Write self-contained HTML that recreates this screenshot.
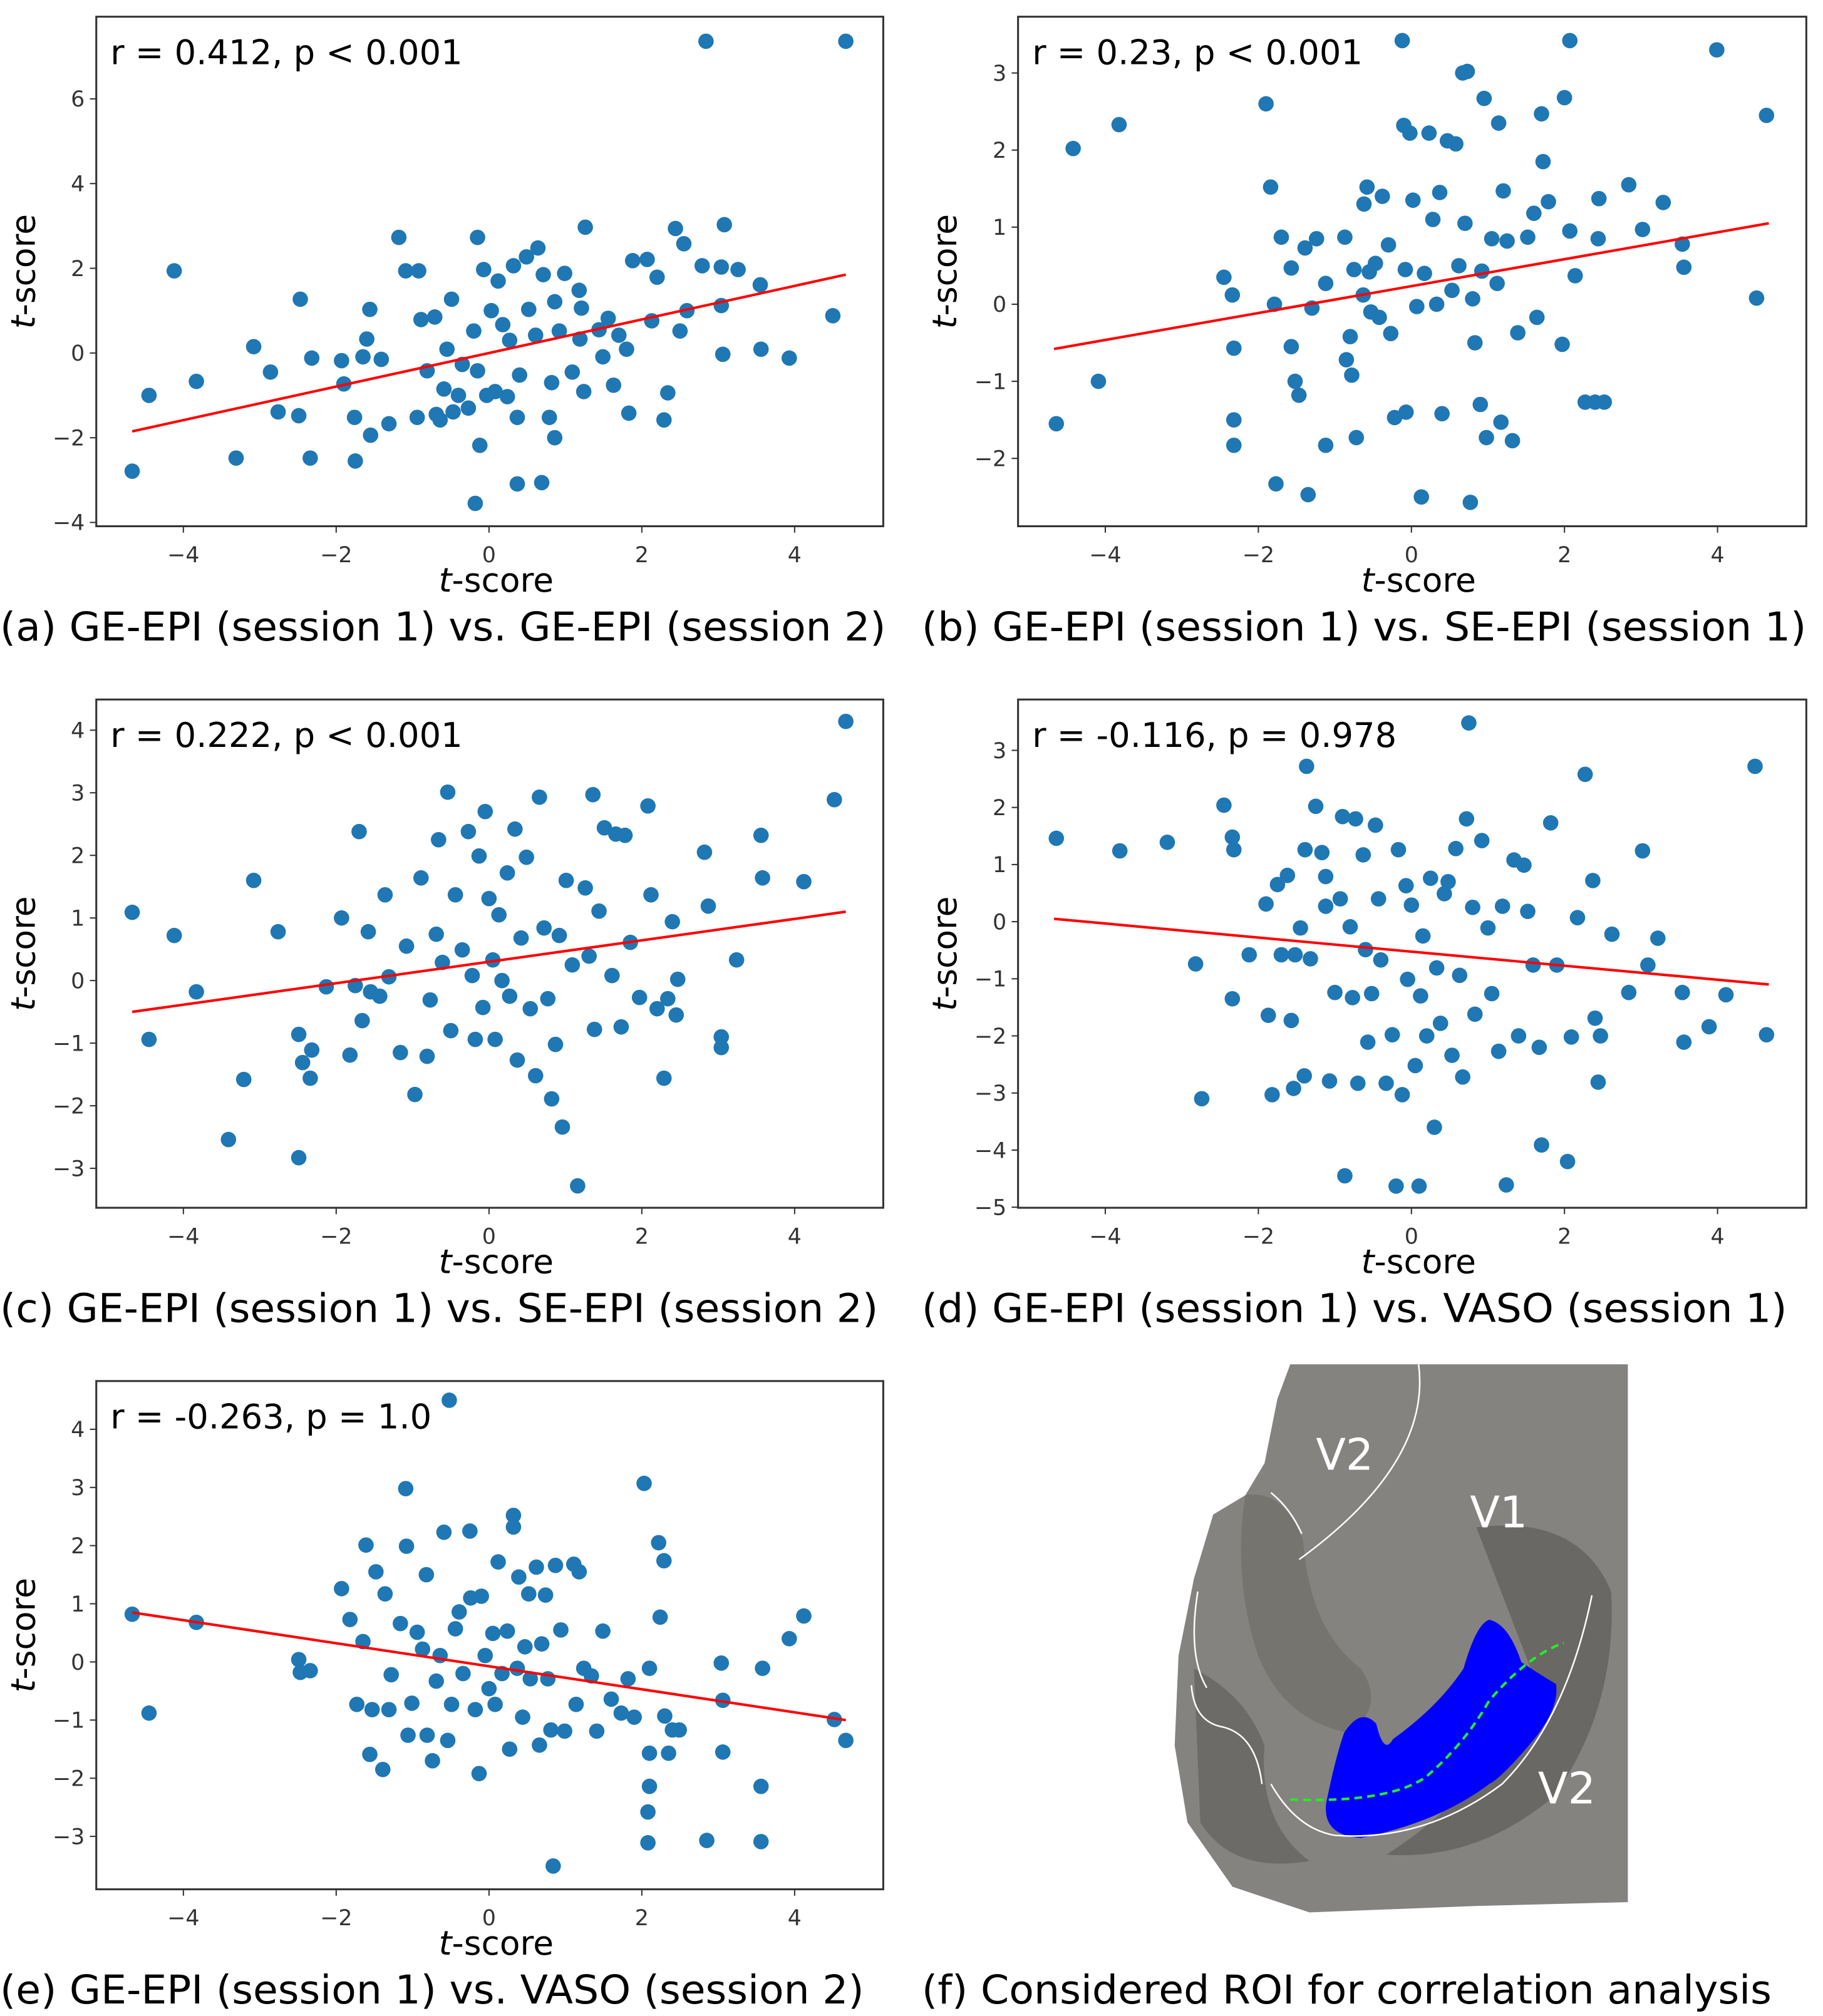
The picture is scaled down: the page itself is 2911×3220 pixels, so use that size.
<!DOCTYPE html>
<html><head><meta charset="utf-8"><style>
html,body{margin:0;padding:0;background:#fff;}
svg{display:block;}
text{font-family:"DejaVu Sans","Liberation Sans",sans-serif;}
</style></head><body>
<svg id="fig" width="2911" height="3220" viewBox="0 0 1420 1570.7" xmlns="http://www.w3.org/2000/svg">
<g id="brain">
<path d="M1005 1063 L1268 1063 L1268 1482 L1150 1485 L1020 1490 L960 1470 L925 1420 L915 1360 L918 1290 L930 1230 L945 1180 L970 1165 L985 1140 L995 1090 Z" fill="#858380"/>
<path d="M970 1165 Q1000 1160 1015 1200 Q1020 1270 1060 1300 Q1080 1330 1050 1350 Q1000 1340 980 1290 Q960 1230 970 1165 Z" fill="#76746f"/>
<path d="M1150 1190 Q1230 1180 1255 1240 Q1260 1330 1210 1400 Q1150 1450 1080 1445 Q1150 1400 1200 1320 Z" fill="#6a6864"/>
<path d="M930 1300 Q970 1320 985 1360 Q980 1420 1020 1450 Q960 1460 935 1420 Z" fill="#6d6b67"/>
<path d="M1160 1262 Q1175 1265 1185 1295 Q1200 1305 1212 1312 Q1215 1330 1195 1355 Q1170 1385 1160 1390 Q1120 1420 1060 1432 Q1030 1430 1033 1405 Q1040 1370 1047 1350 Q1060 1330 1072 1343 Q1078 1368 1085 1355 Q1120 1330 1140 1300 Q1150 1265 1160 1262 Z" fill="#0000ff"/>
<path d="M1105 1063 Q1115 1140 1012 1215" fill="none" stroke="#fff" stroke-width="1.2"/>
<path d="M933 1240 Q925 1290 940 1315" fill="none" stroke="#fff" stroke-width="1.2"/>
<path d="M928 1313 Q930 1340 950 1345 Q978 1350 983 1390" fill="none" stroke="#fff" stroke-width="1.2"/>
<path d="M1240 1243 Q1220 1340 1170 1390 Q1110 1435 1040 1430 Q1010 1425 990 1390" fill="none" stroke="#fff" stroke-width="1.2"/>
<path d="M990 1163 Q1005 1175 1014 1195" fill="none" stroke="#fff" stroke-width="1.2"/>
<path d="M1005 1402 Q1080 1405 1110 1385 Q1140 1360 1160 1325 Q1190 1290 1218 1280" fill="none" stroke="#22ee22" stroke-width="2" stroke-dasharray="6,4"/>
<text x="1025" y="1145" fill="#fff" font-size="34">V2</text>
<text x="1145" y="1190" fill="#fff" font-size="34">V1</text>
<text x="1198" y="1405" fill="#fff" font-size="34">V2</text>
</g>
<text x="718" y="1561" font-size="31" textLength="662" lengthAdjust="spacingAndGlyphs">(f) Considered ROI for correlation analysis</text>
</svg>
<script>
const xTicks=[-4,-2,0,2,4];
const aX=[-4.67,-4.45,-4.12,-3.83,-3.31,-3.08,-2.86,-2.76,-2.49,-2.47,-2.34,-2.32,-1.93,-1.9,-1.75,-1.76,-1.65,-1.6,-1.56,-1.55,-1.41,-1.31,-1.18,-1.09,-0.92,-0.94,-0.89,-0.81,-0.71,-0.64,-0.69,-0.59,-0.55,-0.49,-0.47,-0.4,-0.35,-0.27,-0.2,-0.15,-0.15,-0.12,-0.18,-0.07,-0.03,0.03,0.08,0.12,0.18,0.24,0.27,0.32,0.37,0.37,0.4,0.49,0.52,0.61,0.64,0.69,0.71,0.79,0.82,0.86,0.86,0.92,0.99,1.09,1.18,1.19,1.21,1.24,1.26,1.44,1.49,1.56,1.63,1.7,1.8,1.83,1.88,2.07,2.13,2.2,2.29,2.34,2.44,2.5,2.55,2.79,2.84,3.04,3.06,3.08,3.26,3.55,3.56,3.93,4.5,4.67,3.04,2.59];
const aY=[-2.79,-1.0,1.94,-0.67,-2.48,0.15,-0.45,-1.39,-1.48,1.27,-2.48,-0.12,-0.18,-0.73,-2.55,-1.52,-0.09,0.33,1.03,-1.94,-0.15,-1.67,2.73,1.94,1.94,-1.52,0.79,-0.42,0.85,-1.58,-1.45,-0.85,0.09,1.27,-1.39,-1.0,-0.27,-1.3,0.52,2.73,-0.42,-2.18,-3.55,1.97,-1.0,1.0,-0.91,1.7,0.67,-1.03,0.3,2.06,-1.52,-3.09,-0.52,2.27,1.03,0.42,2.48,-3.06,1.85,-1.52,-0.7,-2.0,1.21,0.52,1.88,-0.45,1.48,0.33,1.06,-0.91,2.97,0.55,-0.09,0.82,-0.76,0.42,0.09,-1.42,2.18,2.21,0.76,1.79,-1.58,-0.94,2.94,0.52,2.58,2.06,7.36,1.12,-0.03,3.03,1.97,1.61,0.09,-0.12,0.88,7.36,2.03,1.0];
const aLineX=[-4.67,4.67], aLineY=[-1.85,1.85];
const bX=[-4.64,-4.42,-4.09,-3.82,-2.45,-2.32,-2.32,-2.32,-2.34,-1.9,-1.84,-1.79,-1.77,-1.7,-1.57,-1.57,-1.52,-1.47,-1.39,-1.35,-1.24,-1.3,-1.12,-1.12,-0.87,-0.85,-0.8,-0.78,-0.75,-0.72,-0.63,-0.62,-0.58,-0.55,-0.53,-0.47,-0.42,-0.38,-0.3,-0.27,-0.22,-0.12,-0.08,-0.1,-0.07,-0.02,0.02,0.07,0.13,0.17,0.23,0.28,0.33,0.37,0.4,0.47,0.53,0.58,0.62,0.67,0.7,0.73,0.77,0.8,0.83,0.9,0.92,0.95,0.98,1.05,1.12,1.14,1.17,1.2,1.25,1.32,1.39,1.52,1.6,1.64,1.7,1.72,1.79,1.97,2.0,2.07,2.07,2.14,2.27,2.4,2.44,2.45,2.52,2.84,3.02,3.29,3.54,3.56,3.99,4.51,4.64];
const bY=[-1.55,2.02,-1.0,2.33,0.35,-0.57,-1.5,-1.83,0.12,2.6,1.52,0.0,-2.33,0.87,0.47,-0.55,-1.0,-1.18,0.73,-2.47,0.85,-0.05,0.27,-1.83,0.87,-0.72,-0.42,-0.92,0.45,-1.73,0.12,1.3,1.52,0.42,-0.1,0.53,-0.17,1.4,0.77,-0.38,-1.47,3.42,0.45,2.32,-1.4,2.22,1.35,-0.03,-2.5,0.4,2.22,1.1,0.0,1.45,-1.42,2.12,0.18,2.08,0.5,3.0,1.05,3.02,-2.57,0.07,-0.5,-1.3,0.43,2.67,-1.73,0.85,0.27,2.35,-1.53,1.47,0.82,-1.77,-0.37,0.87,1.18,-0.17,2.47,1.85,1.33,-0.52,2.68,3.42,0.95,0.37,-1.27,-1.27,0.85,1.37,-1.27,1.55,0.97,1.32,0.78,0.48,3.3,0.08,2.45];
const bLineX=[-4.67,4.67], bLineY=[-0.58,1.05];
const cX=[-4.67,-4.45,-4.12,-3.83,-3.41,-3.21,-3.08,-2.76,-2.49,-2.49,-2.44,-2.34,-2.32,-2.13,-1.93,-1.82,-1.75,-1.7,-1.66,-1.58,-1.55,-1.43,-1.36,-1.31,-1.16,-1.08,-0.97,-0.89,-0.81,-0.77,-0.69,-0.66,-0.61,-0.54,-0.5,-0.44,-0.35,-0.27,-0.22,-0.18,-0.13,-0.08,-0.05,0.0,0.05,0.08,0.13,0.17,0.24,0.27,0.34,0.37,0.42,0.49,0.54,0.61,0.66,0.72,0.77,0.82,0.87,0.92,0.96,1.01,1.09,1.16,1.26,1.31,1.36,1.38,1.44,1.51,1.61,1.66,1.73,1.78,1.85,1.97,2.08,2.12,2.2,2.29,2.34,2.4,2.47,2.45,2.82,2.87,3.04,3.04,3.24,3.56,3.58,4.12,4.52,4.67];
const cY=[1.09,-0.94,0.72,-0.18,-2.54,-1.58,1.6,0.78,-0.86,-2.83,-1.31,-1.56,-1.11,-0.1,1.0,-1.19,-0.08,2.38,-0.64,0.78,-0.18,-0.25,1.37,0.06,-1.15,0.55,-1.82,1.64,-1.21,-0.31,0.74,2.25,0.29,3.01,-0.8,1.37,0.49,2.38,0.08,-0.94,1.99,-0.43,2.7,1.31,0.33,-0.94,1.05,0.0,1.72,-0.25,2.42,-1.27,0.68,1.97,-0.45,-1.52,2.93,0.84,-0.29,-1.89,-1.02,0.72,-2.34,1.6,0.25,-3.28,1.48,0.39,2.97,-0.78,1.11,2.44,0.08,2.34,-0.74,2.32,0.61,-0.27,2.79,1.37,-0.45,-1.56,-0.29,0.94,0.02,-0.55,2.05,1.19,-0.9,-1.07,0.33,2.32,1.64,1.58,2.89,4.14];
const cLineX=[-4.67,4.67], cLineY=[-0.5,1.1];
const dX=[-4.64,-3.81,-3.19,-2.82,-2.74,-2.45,-2.34,-2.32,-2.34,-2.12,-1.9,-1.87,-1.82,-1.75,-1.7,-1.62,-1.57,-1.54,-1.52,-1.45,-1.4,-1.39,-1.37,-1.32,-1.25,-1.17,-1.12,-1.12,-1.07,-1.0,-0.93,-0.9,-0.87,-0.8,-0.77,-0.73,-0.7,-0.63,-0.6,-0.57,-0.52,-0.47,-0.43,-0.4,-0.33,-0.25,-0.2,-0.17,-0.12,-0.07,-0.05,0.0,0.05,0.1,0.12,0.15,0.2,0.25,0.3,0.33,0.38,0.43,0.48,0.53,0.58,0.63,0.67,0.72,0.75,0.8,0.83,0.92,1.0,1.05,1.14,1.19,1.24,1.34,1.4,1.47,1.52,1.59,1.67,1.7,1.82,1.9,2.04,2.09,2.17,2.27,2.37,2.4,2.44,2.47,2.62,2.84,3.02,3.09,3.22,3.54,3.56,3.89,4.11,4.49,4.64];
const dY=[1.46,1.24,1.39,-0.74,-3.1,2.04,1.48,1.26,-1.35,-0.58,0.31,-1.64,-3.03,0.65,-0.58,0.81,-1.73,-2.92,-0.58,-0.11,-2.7,1.26,2.72,-0.65,2.02,1.21,0.27,0.79,-2.79,-1.24,0.4,1.84,-4.45,-0.09,-1.33,1.8,-2.83,1.17,-0.49,-2.11,-1.26,1.69,0.4,-0.67,-2.83,-1.98,-4.63,1.26,-3.03,0.63,-1.01,0.29,-2.52,-4.63,-1.3,-0.25,-2.0,0.76,-3.6,-0.81,-1.78,0.49,0.7,-2.34,1.28,-0.94,-2.72,1.8,3.48,0.25,-1.62,1.42,-0.11,-1.26,-2.27,0.27,-4.61,1.08,-2.0,0.99,0.18,-0.76,-2.2,-3.91,1.73,-0.76,-4.2,-2.02,0.07,2.58,0.72,-1.69,-2.81,-2.0,-0.22,-1.24,1.24,-0.76,-0.29,-1.24,-2.11,-1.84,-1.28,2.72,-1.98];
const dLineX=[-4.67,4.67], dLineY=[0.05,-1.1];
const eX=[-4.67,-4.45,-3.83,-2.49,-2.47,-2.34,-1.93,-1.82,-1.73,-1.65,-1.61,-1.56,-1.53,-1.48,-1.39,-1.36,-1.31,-1.28,-1.16,-1.09,-1.08,-1.06,-1.01,-0.94,-0.87,-0.82,-0.81,-0.74,-0.69,-0.64,-0.59,-0.54,-0.52,-0.49,-0.44,-0.39,-0.34,-0.25,-0.24,-0.18,-0.13,-0.1,-0.05,0.0,0.05,0.08,0.12,0.17,0.24,0.27,0.32,0.32,0.37,0.39,0.44,0.47,0.52,0.54,0.62,0.66,0.69,0.74,0.77,0.81,0.84,0.87,0.94,0.99,1.11,1.14,1.18,1.24,1.34,1.41,1.49,1.6,1.73,1.82,1.9,2.03,2.08,2.1,2.08,2.1,2.1,2.22,2.24,2.29,2.3,2.35,2.4,2.49,2.85,3.04,3.06,3.06,3.56,3.56,3.58,3.93,4.12,4.52,4.67];
const eY=[0.82,-0.88,0.68,0.04,-0.18,-0.15,1.26,0.73,-0.73,0.35,2.01,-1.59,-0.82,1.55,-1.85,1.17,-0.82,-0.22,0.66,2.98,1.99,-1.26,-0.71,0.51,0.22,1.5,-1.26,-1.7,-0.33,0.11,2.23,-1.35,4.5,-0.73,0.57,0.86,-0.2,2.25,1.1,-0.82,-1.92,1.13,0.11,-0.46,0.49,-0.73,1.72,-0.2,0.53,-1.5,2.52,2.32,-0.11,1.46,-0.95,0.26,1.17,-0.29,1.63,-1.43,0.31,1.15,-0.29,-1.17,-3.51,1.66,0.55,-1.19,1.68,-0.73,1.55,-0.11,-0.24,-1.19,0.53,-0.64,-0.88,-0.29,-0.95,3.07,-3.11,-2.14,-2.58,-1.57,-0.11,2.05,0.77,1.74,-0.93,-1.57,-1.17,-1.17,-3.07,-0.02,-0.66,-1.55,-2.14,-3.09,-0.11,0.4,0.79,-0.99,-1.35];
const eLineX=[-4.67,4.67], eLineY=[0.85,-1.0];
const aYTicks=[-4,-2,0,2,4,6], bYTicks=[-2,-1,0,1,2,3], cYTicks=[-3,-2,-1,0,1,2,3,4], dYTicks=[-5,-4,-3,-2,-1,0,1,2,3], eYTicks=[-3,-2,-1,0,1,2,3,4];
const annotations=["r = 0.412, p < 0.001","r = 0.23, p < 0.001","r = 0.222, p < 0.001","r = -0.116, p = 0.978","r = -0.263, p = 1.0"];
const captions=["(a) GE-EPI (session 1) vs. GE-EPI (session 2)","(b) GE-EPI (session 1) vs. SE-EPI (session 1)","(c) GE-EPI (session 1) vs. SE-EPI (session 2)","(d) GE-EPI (session 1) vs. VASO (session 1)","(e) GE-EPI (session 1) vs. VASO (session 2)"];

const NS="http://www.w3.org/2000/svg";
const svg=document.getElementById('fig');
function mk(tag,attrs,parent){const e=document.createElementNS(NS,tag);for(const k in attrs)e.setAttribute(k,attrs[k]);(parent||svg).appendChild(e);return e;}
const panels=[
 {id:'a',box:[75,13,688,410],yd:[-4.09,7.94],xs:aX,ys:aY,lx:aLineX,ly:aLineY,yt:aYTicks,capx:0,capw:690},
 {id:'b',box:[793,13,1407,410],yd:[-2.88,3.73],xs:bX,ys:bY,lx:bLineX,ly:bLineY,yt:bYTicks,capx:718,capw:689},
 {id:'c',box:[75,545,688,941],yd:[-3.63,4.49],xs:cX,ys:cY,lx:cLineX,ly:cLineY,yt:cYTicks,capx:0,capw:684},
 {id:'d',box:[793,545,1407,941],yd:[-5.01,3.89],xs:dX,ys:dY,lx:dLineX,ly:dLineY,yt:dYTicks,capx:718,capw:674},
 {id:'e',box:[75,1076,688,1472],yd:[-3.91,4.83],xs:eX,ys:eY,lx:eLineX,ly:eLineY,yt:eYTicks,capx:0,capw:673}
];
panels.forEach((p,i)=>{
 const [x0,y0,x1,y1]=p.box;
 const sx=v=>x0+(v+5.14)/(10.3)*(x1-x0);
 const sy=v=>y1-(v-p.yd[0])/(p.yd[1]-p.yd[0])*(y1-y0);
 const g=mk('g',{});
 
 
 const clip=mk('clipPath',{id:'clip'+p.id},g);
 mk('rect',{x:x0,y:y0,width:x1-x0,height:y1-y0},clip);
 const pts=mk('g',{'clip-path':'url(#clip'+p.id+')'},g);
 
 
 p.xs.forEach((xv,j)=>{
  const c=mk('circle',{cx:sx(xv),cy:sy(p.ys[j]),r:6,fill:'#1f77b4'},pts);
  
  
 });
 const ln=mk('line',{x1:sx(p.lx[0]),y1:sy(p.ly[0]),x2:sx(p.lx[1]),y2:sy(p.ly[1]),stroke:'#ff0000','stroke-width':2},g);
 
 
 const fr=mk('rect',{x:x0,y:y0,width:x1-x0,height:y1-y0,fill:'none',stroke:'#333','stroke-width':1.5},g);
 
 
 xTicks.forEach(t=>{
  mk('line',{x1:sx(t),x2:sx(t),y1:y1,y2:y1+5,stroke:'#333','stroke-width':1},g);
  const tx=mk('text',{x:sx(t),y:y1+28,'text-anchor':'middle','font-size':17,fill:'#333'},g);
  tx.textContent=(t<0?'\u2212':'')+Math.abs(t);
  
  
 });
 p.yt.forEach(t=>{
  mk('line',{x1:x0-5,x2:x0,y1:sy(t),y2:sy(t),stroke:'#333','stroke-width':1},g);
  const tx=mk('text',{x:x0-9,y:sy(t)+6,'text-anchor':'end','font-size':17,fill:'#333'},g);
  tx.textContent=(t<0?'\u2212':'')+Math.abs(t);
  
  
 });
 const xl=mk('text',{x:(x0+x1)/2+5,y:y1+51,'text-anchor':'middle','font-size':26},g);
 xl.innerHTML='<tspan font-style="italic">t</tspan>-score';
 
 
 const yc=(y0+y1)/2;
 const yl=mk('text',{x:x0-48,y:yc,'text-anchor':'middle','font-size':26,transform:'rotate(-90 '+(x0-48)+' '+yc+')'},g);
 yl.innerHTML='<tspan font-style="italic">t</tspan>-score';
 
 
 const an=mk('text',{x:x0+11,y:y0+37,'font-size':26.5},g);
 an.textContent=annotations[i];
 
 
 const cp=mk('text',{x:p.capx,y:y1+89,'font-size':31,textLength:p.capw,lengthAdjust:'spacingAndGlyphs'},g);
 cp.textContent=captions[i];
 
 
});
</script>
</body></html>
